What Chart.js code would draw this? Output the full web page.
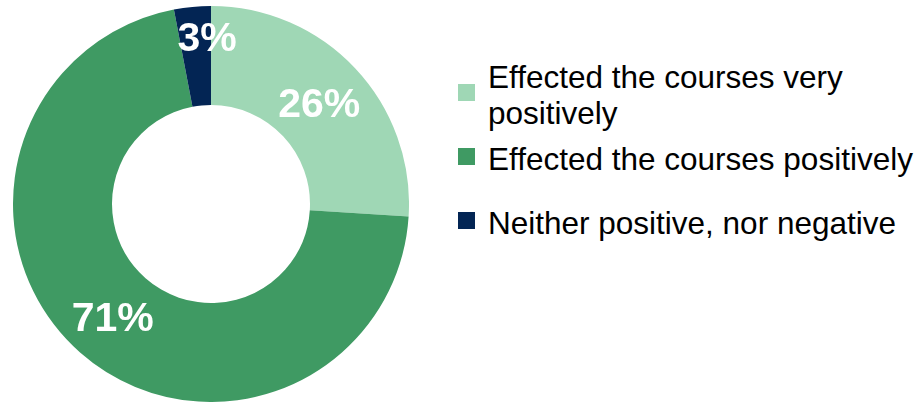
<!DOCTYPE html>
<html>
<head>
<meta charset="utf-8">
<script src="https://cdn.jsdelivr.net/npm/chart.js@4/dist/chart.umd.min.js"></script>
<style>
  body { margin: 0; width: 922px; height: 402px; background: #fff; position: relative; overflow: hidden; font-family: 'Liberation Sans', Arial, sans-serif; }
  #chartBox { position: absolute; left: 13px; top: 6px; width: 396px; height: 396px; }
  #legend { position: absolute; left: 458px; top: 59px; width: 464px; margin: 0; padding: 0; list-style: none; }
  #legend li { display: flex; align-items: center; font-size: 31.5px; line-height: 36px; color: #000; }
  #legend li:nth-child(2) { margin-top: 10px; }
  #legend li:nth-child(3) { margin-top: 28px; }
  #legend .box { flex: none; width: 17px; height: 17px; margin-right: 13px; margin-top: -6px; }
  #legend .txt { width: 434px; }
</style>
</head>
<body>
<div id="chartBox"><canvas id="myChart"></canvas></div>
<ul id="legend"></ul>
<script>
const categories = [
  'Effected the courses very positively',
  'Effected the courses positively',
  'Neither positive, nor negative',
]
const percents = [26, 71, 3]
const colors = ['#9fd7b5', '#3f9a63', '#032554']

// legend on the right, built from the same arrays
const legend = document.getElementById('legend')
categories.forEach((category, i) => {
  const li = document.createElement('li')
  const box = document.createElement('span')
  box.className = 'box'
  box.style.background = colors[i]
  const txt = document.createElement('span')
  txt.className = 'txt'
  txt.innerText = category
  li.appendChild(box)
  li.appendChild(txt)
  legend.appendChild(li)
})

const percentLabels = {
  id: 'percentLabels',
  afterDatasetsDraw(chart, args, options) {
    const { ctx } = chart
    const meta = chart.getDatasetMeta(0)
    const size = options.size
    ctx.save()
    ctx.font = `bold ${size}px 'Liberation Sans', Arial, sans-serif`
    ctx.fillStyle = '#fff'
    ctx.textAlign = 'center'
    ctx.textBaseline = 'alphabetic'
    meta.data.forEach((arc, i) => {
      const pos = arc.tooltipPosition()
      const shift = options.shift[i] || { x: 0, y: 0 }
      const value = chart.data.datasets[0].data[i]
      ctx.fillText(value + '%', pos.x + shift.x, pos.y + shift.y + size * 0.358)
    })
    ctx.restore()
  },
}

const config = {
  type: 'doughnut',
  data: {
    labels: categories,
    datasets: [
      {
        data: percents,
        backgroundColor: colors,
        borderWidth: 0,
        hoverOffset: 0,
      },
    ],
  },
  options: {
    responsive: true,
    maintainAspectRatio: false,
    animation: false,
    events: [],
    cutout: '50%',
    layout: { padding: 0 },
    plugins: {
      legend: { display: false },
      tooltip: { enabled: false },
      percentLabels: {
        size: 41,
        // the thin slice gets its label pushed out toward the rim
        shift: [{ x: 0, y: 0 }, { x: 0, y: 1 }, { x: 10, y: -20 }],
      },
    },
  },
  plugins: [percentLabels],
}

const myChart = new Chart(document.getElementById('myChart'), config)
</script>
</body>
</html>
